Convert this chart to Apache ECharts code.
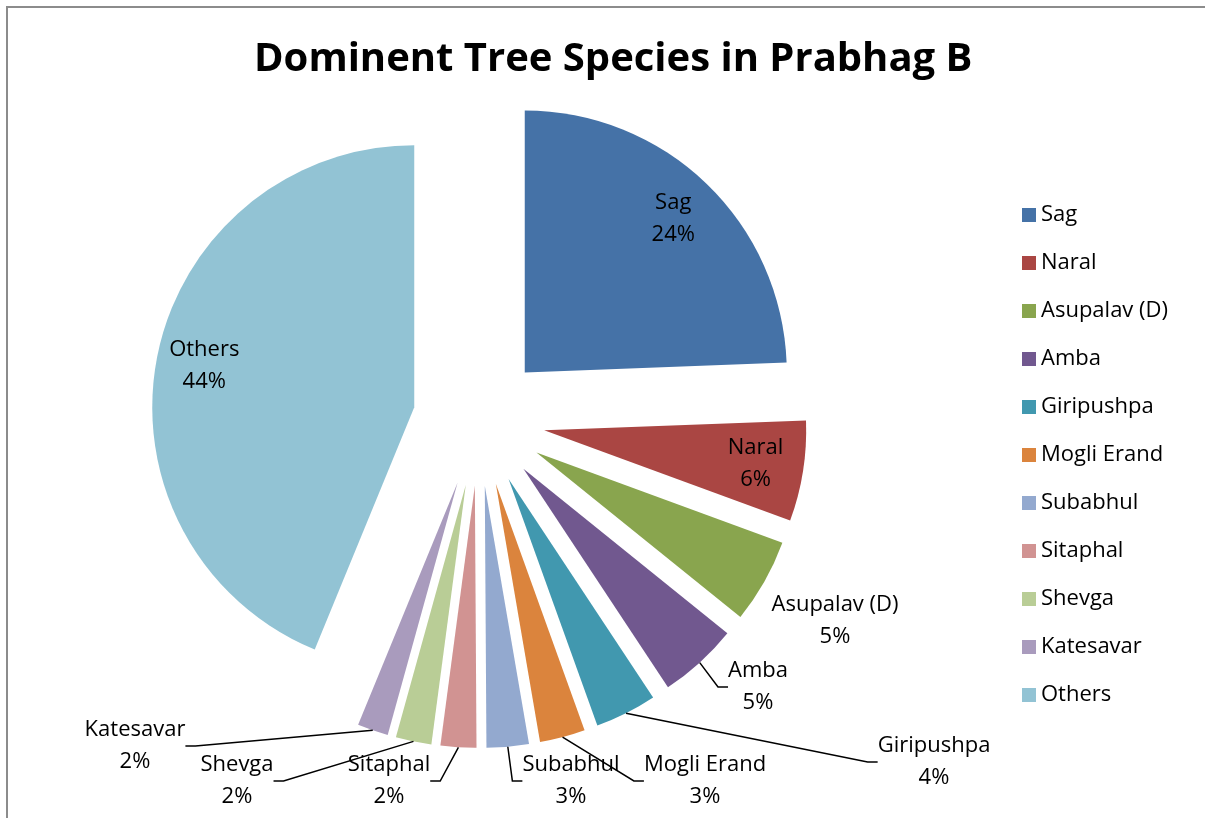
<!DOCTYPE html>
<html>
<head>
<meta charset="utf-8">
<title>Dominent Tree Species in Prabhag B</title>
<script src="https://cdn.jsdelivr.net/npm/echarts@6/dist/echarts.min.js"></script>
<style>
html, body { margin: 0; padding: 0; background: #fff; }
#frame { position: absolute; left: 6px; top: 6px; width: 1210px; height: 830px;
         border-left: 2px solid #8c8c8c; border-top: 2px solid #8c8c8c; }
#chart { position: absolute; left: 0; top: 0; width: 1205px; height: 818px; }
</style>
</head>
<body>
<div id="frame"></div>
<div id="chart"></div>
<script>
// species and their share of trees (%)
var species = ['Sag', 'Naral', 'Asupalav (D)', 'Amba', 'Giripushpa', 'Mogli Erand',
               'Subabhul', 'Sitaphal', 'Shevga', 'Katesavar', 'Others'];
var shares = [24.4, 6.2, 5.2, 4.9, 3.8, 2.8, 2.6, 2.2, 2.2, 1.9, 43.8];
var insideLabels = ['Sag', 'Naral', 'Others'];
var noLeader = ['Asupalav (D)'];

// excel 2007 palette
var colors = ['#4572A7', '#AA4643', '#89A54E', '#71588F', '#4198AF', '#DB843D',
              '#93A9CF', '#D19392', '#B9CD96', '#A99BBD', '#92C3D4'];

// where excel put the outside data labels (label centre)
var outsideLabelAt = {
    'Asupalav (D)': [835, 621],
    'Amba': [758, 687],
    'Giripushpa': [934, 762],
    'Mogli Erand': [705, 781],
    'Subabhul': [571, 781],
    'Sitaphal': [389, 781],
    'Shevga': [237, 781],
    'Katesavar': [135, 746]
};

var FONT = '"Open Sans", "Noto Sans", sans-serif';
var pieCenter = [479, 420];
var pieRadius = 262;
var explode = 66;
var insideLabelRadius = 280;   // from the unexploded centre

var labelText = function (p) {
    return p.name + '\n' + Math.round(p.percent) + '%';
};

// mid angle of a slice, measured clockwise from 12 o'clock
var midAngle = function (idx) {
    var total = 0, before = 0;
    shares.forEach(function (v, i) {
        total += v;
        if (i < idx) before += v;
    });
    return (before + shares[idx] / 2) / total * 2 * Math.PI;
};

var chart = echarts.init(document.getElementById('chart'));

// the exploded slices
var sliceData = species.map(function (name, i) {
    return {name: name, value: shares[i], selected: true, itemStyle: {color: colors[i]}};
});

// invisible copy of the pie that only carries the data labels
var labelData = species.map(function (name, i) {
    var leader = insideLabels.indexOf(name) < 0 && noLeader.indexOf(name) < 0;
    return {name: name, value: shares[i], labelLine: {show: leader}};
});

var option = {
    animation: false,
    color: colors,
    title: {
        text: 'Dominent Tree Species in Prabhag B',
        left: 249,
        top: 35,
        textStyle: {fontFamily: FONT, fontSize: 40, fontWeight: 'bold', color: '#000'}
    },
    legend: {
        orient: 'vertical',
        left: 1022,
        top: 204,
        padding: 0,
        icon: 'rect',
        itemWidth: 14,
        itemHeight: 14,
        itemGap: 26,
        data: species,
        selectedMode: false,
        textStyle: {fontFamily: FONT, fontSize: 22, lineHeight: 22, color: '#000'}
    },
    series: [
        {
            name: 'trees',
            type: 'pie',
            z: 2,
            center: pieCenter,
            radius: pieRadius,
            startAngle: 90,
            clockwise: true,
            selectedMode: 'multiple',
            selectedOffset: explode,
            silent: true,
            itemStyle: {borderWidth: 0},
            label: {show: false},
            labelLine: {show: false},
            data: sliceData
        },
        {
            name: 'labels',
            type: 'pie',
            z: 5,
            center: pieCenter,
            radius: [320, pieRadius + explode],
            startAngle: 90,
            clockwise: true,
            silent: true,
            avoidLabelOverlap: false,
            itemStyle: {color: 'rgba(0,0,0,0)'},
            label: {
                position: 'outside',
                formatter: labelText,
                fontFamily: FONT,
                fontSize: 22,
                lineHeight: 32,
                color: '#000'
            },
            labelLine: {
                length: 10,
                length2: 10,
                lineStyle: {color: '#000', width: 1.5}
            },
            labelLayout: function (p) {
                var name = species[p.dataIndex];
                var at = outsideLabelAt[name];
                if (insideLabels.indexOf(name) >= 0) {
                    var a = midAngle(p.dataIndex);
                    at = [pieCenter[0] + insideLabelRadius * Math.sin(a),
                          pieCenter[1] - insideLabelRadius * Math.cos(a)];
                }
                if (!at) return {};
                return {x: at[0], y: at[1], align: 'center', verticalAlign: 'middle'};
            },
            data: labelData
        }
    ]
};

chart.setOption(option);
</script>
</body>
</html>
